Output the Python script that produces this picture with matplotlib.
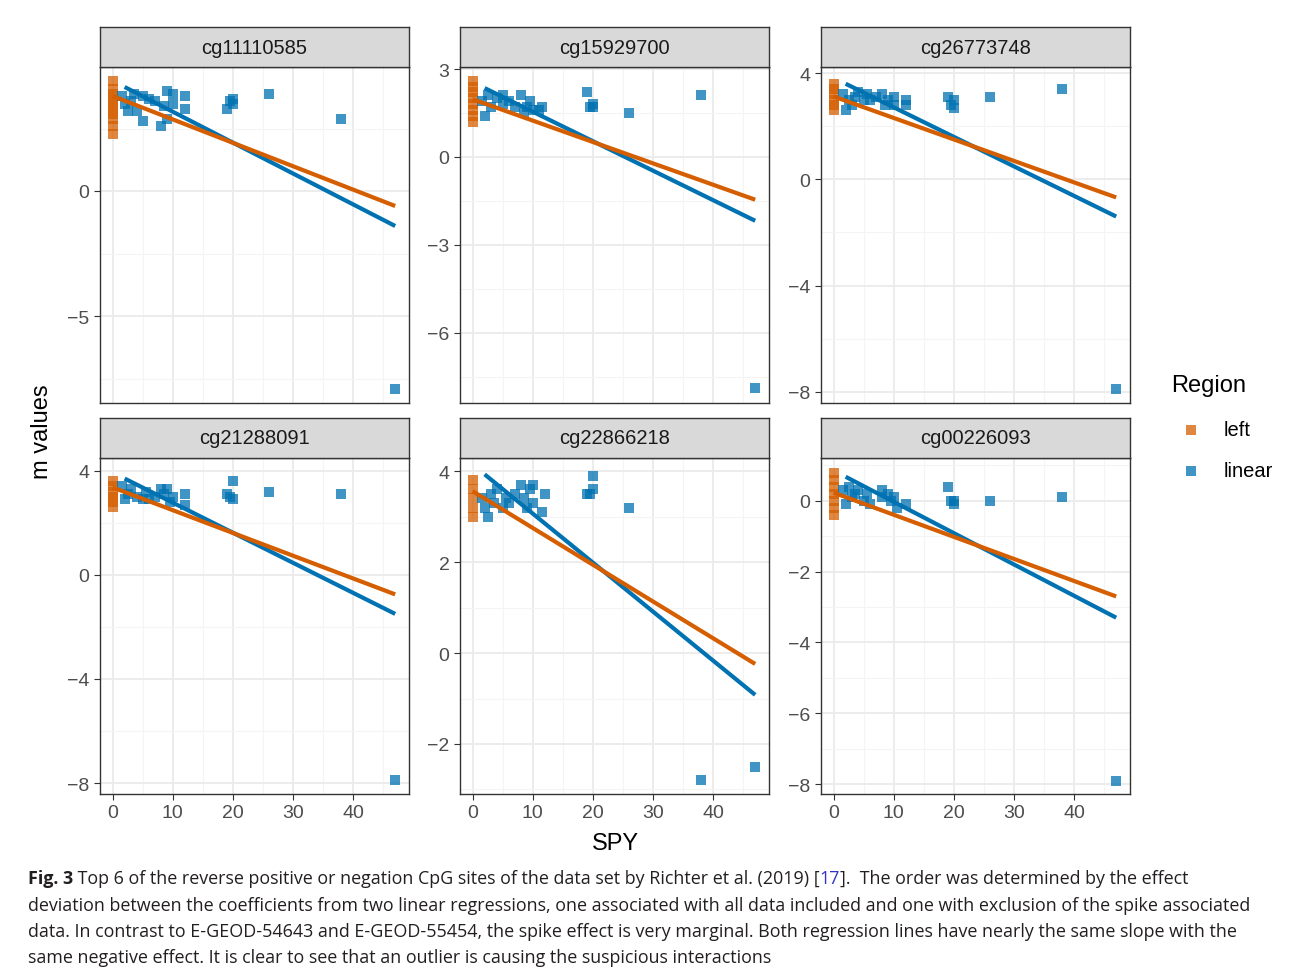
import numpy as np
import matplotlib.pyplot as plt
from matplotlib.patches import Rectangle

plt.rcParams['font.family'] = ['Liberation Sans', 'DejaVu Sans']

titles = ['cg11110585', 'cg15929700', 'cg26773748',
          'cg21288091', 'cg22866218', 'cg00226093']

# orange ("left") points, all at SPY = 0
left_y = [
    [2.3, 2.6, 2.9, 3.1, 3.3, 3.5, 3.7, 3.9, 4.1, 4.4],
    [1.2, 1.4, 1.6, 1.8, 2.0, 2.2, 2.4, 2.6],
    [2.6, 2.8, 3.0, 3.2, 3.4, 3.6],
    [2.6, 2.8, 3.0, 3.2, 3.4, 3.6],
    [3.0, 3.2, 3.4, 3.6, 3.8],
    [-0.4, -0.2, 0.0, 0.2, 0.4, 0.6, 0.8],
]

# blue ("linear") points
lin_x = [
    [1.5, 2, 2.5, 3, 3.5, 4, 5, 5, 6, 7, 8, 8.5, 9, 9, 10, 10, 12, 12, 19, 19.5, 20, 20, 26, 38, 47],
    [1.5, 2, 2.5, 3, 4, 5, 5, 6, 7, 8, 8.5, 9, 9.5, 10, 11, 11.5, 19, 19.5, 20, 20, 26, 38, 47],
    [1.5, 2, 2.5, 3, 3.5, 4, 5, 5.5, 6, 7, 8, 8.5, 9, 10, 10, 12, 12, 19, 19.5, 20, 20, 26, 38, 47],
    [1.5, 2, 2.5, 3, 4, 5, 5.5, 6, 7, 8, 8.5, 9, 9.5, 10, 12, 12, 19, 19.5, 20, 20, 26, 38, 47],
    [1.5, 2, 2.5, 3, 3.5, 4, 5, 5.5, 6, 7, 8, 8.5, 9, 9.5, 10, 10, 11.5, 12, 19, 19.5, 20, 20, 26, 38, 47],
    [1.5, 2, 2.5, 3, 3.5, 4, 5, 5.5, 6, 8, 8, 9, 9.5, 10, 10.5, 12, 19, 19.5, 20, 20, 26, 38, 47],
]
lin_y = [
    [3.8, 3.5, 3.2, 3.6, 3.9, 3.2, 2.8, 3.8, 3.7, 3.6, 2.6, 3.4, 4.0, 2.9, 3.9, 3.5, 3.8, 3.3, 3.3, 3.6, 3.7, 3.5, 3.9, 2.9, -7.9],
    [1.9, 1.4, 2.1, 1.7, 2.0, 1.8, 2.1, 1.9, 1.7, 2.1, 1.5, 1.7, 1.9, 1.6, 1.6, 1.7, 2.2, 1.7, 1.8, 1.7, 1.5, 2.1, -7.9],
    [3.2, 2.6, 3.0, 2.8, 3.1, 3.3, 3.0, 3.2, 3.0, 3.1, 3.2, 2.8, 3.0, 3.1, 2.8, 3.0, 2.8, 3.1, 2.8, 3.0, 2.7, 3.1, 3.4, -7.9],
    [3.4, 2.9, 3.1, 3.3, 3.0, 2.9, 3.2, 2.9, 3.0, 3.3, 3.1, 3.3, 2.8, 3.0, 3.1, 2.7, 3.1, 3.0, 3.6, 2.9, 3.2, 3.1, -7.9],
    [3.4, 3.2, 3.0, 3.5, 3.3, 3.6, 3.2, 3.4, 3.3, 3.5, 3.7, 3.4, 3.2, 3.6, 3.3, 3.7, 3.1, 3.5, 3.5, 3.5, 3.9, 3.6, 3.2, -2.8, -2.5],
    [0.3, -0.1, 0.4, 0.1, 0.2, 0.3, 0.0, 0.2, -0.1, 0.3, 0.1, 0.2, 0.0, 0.1, -0.2, -0.1, 0.4, 0.0, 0.0, -0.1, 0.0, 0.1, -7.9],
]

# regression lines: (value at start, value at SPY=47)
left_fit = [(3.8, -0.6), (1.97, -1.46), (3.12, -0.68), (3.36, -0.75), (3.56, -0.24), (0.23, -2.7)]
lin_fit = [(4.16, -1.4), (2.35, -2.18), (3.6, -1.4), (3.70, -1.5), (3.93, -0.92), (0.68, -3.3)]

yticks = [[0, -5], [3, 0, -3, -6], [4, 0, -4, -8], [4, 0, -4, -8], [4, 2, 0, -2], [0, -2, -4, -6, -8]]
ylims = [(-8.48, 4.96), (-8.4, 3.07), (-8.42, 4.23), (-8.42, 4.49), (-3.1, 4.29), (-8.28, 1.21)]

c_left = '#D55E00'
c_lin = '#0072B2'

W, H = 1295, 978
fig = plt.figure(figsize=(W / 100, H / 100), dpi=100)

xs = [100, 460, 821]
rows = [(68, 404), (459, 795)]
pw = 309

for i in range(6):
    r, c = divmod(i, 3)
    top, bot = rows[r]
    ax = fig.add_axes([xs[c] / W, 1 - bot / H, pw / W, (bot - top) / H])
    ax.set_xlim(-2.1, 49.3)
    ax.set_xticks([0, 10, 20, 30, 40])
    ax.set_xticks([5, 15, 25, 35, 45], minor=True)
    yt = yticks[i]
    ax.set_yticks(yt)
    step = abs(yt[0] - yt[1])
    ax.set_yticks(np.arange(min(yt) - step / 2, max(yt) + step, step), minor=True)
    ax.set_ylim(*ylims[i])
    ax.grid(True, which='major', color='#EBEBEB', lw=1.3)
    ax.grid(True, which='minor', color='#F4F4F4', lw=0.8)
    ax.set_axisbelow(True)
    for s in ax.spines.values():
        s.set_color('#333333')
        s.set_linewidth(1.0)
    ax.tick_params(which='minor', length=0)
    ax.tick_params(which='major', length=4, color='#333333', labelsize=14, labelcolor='#4D4D4D')
    ax.set_yticklabels([str(v).replace('-', '\u2212') for v in yt])
    if r == 0:
        ax.tick_params(axis='x', which='major', length=0, labelbottom=False)

    ax.scatter([0] * len(left_y[i]), left_y[i], marker='s', s=42, color=c_left, alpha=0.75, lw=0)
    ax.scatter(lin_x[i], lin_y[i], marker='s', s=42, color=c_lin, alpha=0.75, lw=0)
    ax.plot([2, 47], lin_fit[i], color=c_lin, lw=3, solid_capstyle='butt')
    ax.plot([0, 47], left_fit[i], color=c_left, lw=3, solid_capstyle='butt')

    # facet strip
    sh = 40
    sax = fig.add_axes([xs[c] / W, 1 - top / H, pw / W, sh / H])
    sax.set_xticks([])
    sax.set_yticks([])
    sax.set_facecolor('#D9D9D9')
    for s in sax.spines.values():
        s.set_color('#333333')
        s.set_linewidth(1.0)
    sax.text(0.5, 0.5, titles[i], ha='center', va='center', fontsize=14.5, color='#1A1A1A')

fig.text(42 / W, 1 - 432 / H, 'm values', rotation=90, ha='center', va='center', fontsize=17)
fig.text(615 / W, 1 - 844 / H, 'SPY', ha='center', va='center', fontsize=17)

# legend
fig.text(1171 / W, 1 - 386 / H, 'Region', ha='left', va='center', fontsize=17)
for yy, lab, col in [(431, 'left', c_left), (472, 'linear', c_lin)]:
    fig.patches.append(Rectangle((1186 / W, 1 - (yy + 5) / H), 10 / W, 10 / H,
                                 transform=fig.transFigure, color=col, alpha=0.75, lw=0))
    fig.text(1224 / W, 1 - yy / H, lab, ha='left', va='center', fontsize=14.5)

# caption
cap_font = ['Open Sans', 'DejaVu Sans']
fs = 12.9
renderer = fig.canvas.get_renderer()

def chain(parts, y):
    x = 28
    for txt, kw in parts:
        t = fig.text(x / W, 1 - y / H, txt, ha='left', va='center', fontsize=fs,
                     family=cap_font, color=kw.get('color', '#231F20'),
                     fontweight=kw.get('weight', 'normal'))
        x = t.get_window_extent(renderer).x1

chain([('Fig. 3', {'weight': 'bold'}),
       (' Top 6 of the reverse positive or negation CpG sites of the data set by Richter et al. (2019) [', {}),
       ('17', {'color': '#3333CC'}),
       ('].  The order was determined by the effect', {})], 879)
chain([('deviation between the coefficients from two linear regressions, one associated with all data included and one with exclusion of the spike associated', {})], 906)
chain([('data. In contrast to E-GEOD-54643 and E-GEOD-55454, the spike effect is very marginal. Both regression lines have nearly the same slope with the', {})], 932)
chain([('same negative effect. It is clear to see that an outlier is causing the suspicious interactions', {})], 958)

fig.savefig('out.png', dpi=100)
